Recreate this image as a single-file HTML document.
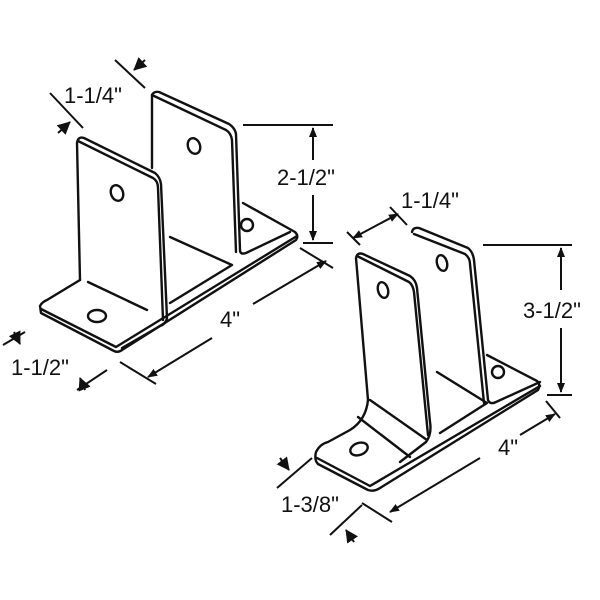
<!DOCTYPE html>
<html><head><style>
body{margin:0;background:#fff;width:600px;height:600px;overflow:hidden}
svg{display:block}
text{font-family:"Liberation Sans",sans-serif;font-size:22px;fill:#111}
</style></head><body>
<svg width="600" height="600" viewBox="0 0 600 600">
<defs>
<marker id="a" markerWidth="10" markerHeight="10" refX="9" refY="5" orient="auto-start-reverse" markerUnits="userSpaceOnUse">
<path d="M0,1 L10,5 L0,9 Z" fill="#111"/></marker>
<marker id="b" markerWidth="13" markerHeight="13" refX="12" refY="6.5" orient="auto" markerUnits="userSpaceOnUse">
<path d="M0,0 L13,6.5 L0,13 Z" fill="#111"/></marker>
</defs>
<g fill="none" stroke="#111" stroke-width="2.4" stroke-linejoin="round" stroke-linecap="round">
<!-- LEFT BRACKET -->
<path d="M243,203 L295,232 Q299,236 296,240 L122,350 Q118,353 114,351 L41,313 L40,306 Q42,302 47,300 L80,280"/>
<path d="M41,309 L116,347 L297,236"/>
<path d="M152,168 L152,95 Q154,91 159,92 L229,124 Q235,128 236,134 L240,250 Q240,255 246,253 L290,232"/>
<path d="M152,95 L226,130 Q231,133 232,140 L236,252"/>
<path d="M170,237 L232,265 L170,303"/>
<path d="M80,280 L77,143 Q78,136 84,138 L155,173 Q160,177 161,184 L167,318 Q166,324 160,326 L122,348"/>
<path d="M78,141 L153,178 Q158,181 158,188 L163,320"/>
<path d="M88,282 L147,310"/>
<ellipse cx="117" cy="193" rx="6" ry="8" transform="rotate(-20 117 193)"/>
<ellipse cx="194" cy="146" rx="6" ry="8" transform="rotate(-20 194 146)"/>
<ellipse cx="97" cy="316" rx="9" ry="6"/>
<ellipse cx="247" cy="225" rx="6" ry="6"/>
<!-- RIGHT BRACKET -->
<path d="M487,355 L537,381 Q541,385 538,390 L380,488 Q374,492 368,490 L318,464 Q314,460 316,452 Q320,444 328,442 L350,430 Q366,420 368,400"/>
<path d="M317,458 L370,486 L540,386"/>
<path d="M412,232 Q413,227 419,228 L468,248 Q473,252 474,260 L488,400 Q490,405 496,402 L540,382"/>
<path d="M414,234 L465,254 Q470,258 470,264 L484,403"/>
<path d="M437,372 L487,403 L440,433"/>
<path d="M368,400 L356,258 Q357,252 363,254 L410,276 Q416,280 417,288 L430,422 Q432,434 426,442 L400,462"/>
<path d="M357,256 L409,282 Q413,285 414,292 L428,435"/>
<path d="M370,400 L427,440"/>
<path d="M358,417 L410,457"/>
<ellipse cx="383" cy="290" rx="5" ry="8" transform="rotate(-15 383 290)"/>
<ellipse cx="442" cy="263" rx="5" ry="8" transform="rotate(-15 442 263)"/>
<ellipse cx="359" cy="449" rx="9" ry="6" transform="rotate(-20 359 449)"/>
<ellipse cx="498" cy="372" rx="6" ry="6"/>
</g>
<g stroke="#111" stroke-width="2" fill="none">
<!-- left 2-1/2 -->
<line x1="243" y1="125" x2="333" y2="125"/><line x1="303" y1="243" x2="333" y2="243"/>
<line x1="313" y1="128" x2="313" y2="160" marker-start="url(#a)"/><line x1="313" y1="195" x2="313" y2="240" marker-end="url(#a)"/>
<!-- left 4" -->
<line x1="120" y1="362" x2="156" y2="384"/><line x1="300" y1="248" x2="333" y2="268"/>
<line x1="148" y1="377" x2="212" y2="338" marker-start="url(#a)"/><line x1="253" y1="304" x2="326" y2="261" marker-end="url(#a)"/>
<!-- left 1-1/2 -->
<line x1="3" y1="345" x2="25" y2="332"/><line x1="77" y1="390" x2="107" y2="370"/>
<line x1="14" y1="332" x2="20" y2="344" marker-end="url(#b)"/>
<line x1="85" y1="390" x2="80" y2="378" marker-end="url(#b)"/>
<!-- left 1-1/4 -->
<line x1="50" y1="93" x2="83" y2="128"/><line x1="115" y1="60" x2="145" y2="88"/>
<line x1="58" y1="133" x2="70" y2="122" marker-end="url(#b)"/>
<line x1="145" y1="60" x2="134" y2="70" marker-end="url(#b)"/>
<!-- right 3-1/2 -->
<line x1="483" y1="245" x2="572" y2="245"/><line x1="547" y1="395" x2="572" y2="395"/>
<line x1="561" y1="248" x2="561" y2="290" marker-start="url(#a)"/><line x1="561" y1="328" x2="561" y2="392" marker-end="url(#a)"/>
<!-- right 1-1/4 -->
<line x1="347" y1="232" x2="360" y2="245"/><line x1="390" y1="207" x2="407" y2="225"/>
<line x1="353" y1="238" x2="398" y2="214" marker-start="url(#a)" marker-end="url(#a)"/>
<!-- right 4" -->
<line x1="362" y1="503" x2="392" y2="522"/><line x1="546" y1="401" x2="560" y2="418"/>
<line x1="390" y1="512" x2="480" y2="458" marker-start="url(#a)"/><line x1="520" y1="435" x2="555" y2="414" marker-end="url(#a)"/>
<!-- right 1-3/8 -->
<line x1="277" y1="488" x2="312" y2="458"/><line x1="330" y1="535" x2="362" y2="505"/>
<line x1="280" y1="458" x2="289" y2="470" marker-end="url(#b)"/>
<line x1="354" y1="542" x2="346" y2="530" marker-end="url(#b)"/>
</g>
<text x="64" y="103">1-1/4"</text>
<text x="277" y="185">2-1/2"</text>
<text x="220" y="327">4"</text>
<text x="11" y="375">1-1/2"</text>
<text x="401" y="208">1-1/4"</text>
<text x="523" y="318">3-1/2"</text>
<text x="498" y="455">4"</text>
<text x="281" y="512">1-3/8"</text>
</svg>
</body></html>
